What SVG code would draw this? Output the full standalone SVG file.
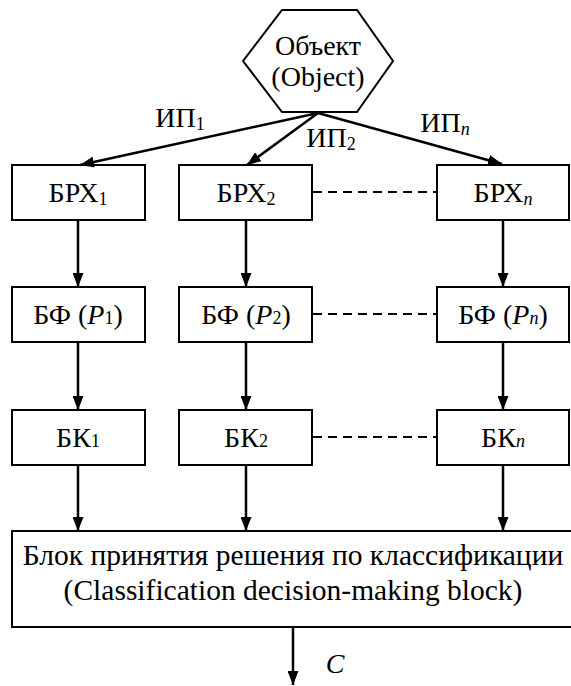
<svg xmlns="http://www.w3.org/2000/svg" width="571" height="686" viewBox="0 0 571 686">
<defs>
<style>
.box{fill:#fff;stroke:#000;stroke-width:2}
text{font-family:"Liberation Serif","DejaVu Serif",serif;font-size:28px;fill:#000;text-anchor:middle}
.big{font-size:29.5px}
.it{font-style:italic}
.sub{font-size:18px}
.ln{stroke:#000;stroke-width:2.5;fill:none}
.arr{marker-end:url(#ah)}
.dash{stroke:#000;stroke-width:2;stroke-dasharray:9 6;fill:none}
</style>
<marker id="ah" markerUnits="userSpaceOnUse" markerWidth="14" markerHeight="11" refX="14" refY="5.5" orient="auto">
<path d="M0,0 L14,5.5 L0,11 z" fill="#000"/>
</marker>
</defs>
<g id="object">
<polygon class="box" points="243,61 282,10 357,10 393,61 357,112 282,112"/>
<text x="318" y="55">Объект</text>
<text x="318" y="86">(Object)</text>
</g>
<g id="brx1"><rect class="box" x="12" y="165" width="133" height="55"/><text x="78" y="202">БРХ<tspan class="sub" dy="3">1</tspan></text></g>
<g id="brx2"><rect class="box" x="179" y="165" width="133" height="55"/><text x="246" y="202">БРХ<tspan class="sub" dy="3">2</tspan></text></g>
<g id="brxn"><rect class="box" x="437" y="165" width="132" height="55"/><text x="503" y="202">БРХ<tspan class="sub it" dy="3">n</tspan></text></g>
<g id="bf1"><rect class="box" x="12" y="287" width="133" height="55"/><text x="78" y="324">БФ (<tspan class="it">P</tspan><tspan class="sub">1</tspan>)</text></g>
<g id="bf2"><rect class="box" x="179" y="287" width="133" height="55"/><text x="246" y="324">БФ (<tspan class="it">P</tspan><tspan class="sub">2</tspan>)</text></g>
<g id="bfn"><rect class="box" x="437" y="287" width="132" height="55"/><text x="503" y="324">БФ (<tspan class="it">P</tspan><tspan class="sub it">n</tspan>)</text></g>
<g id="bk1"><rect class="box" x="12" y="410" width="133" height="55"/><text x="78" y="447">БК<tspan class="sub">1</tspan></text></g>
<g id="bk2"><rect class="box" x="179" y="410" width="133" height="55"/><text x="246" y="447">БК<tspan class="sub">2</tspan></text></g>
<g id="bkn"><rect class="box" x="437" y="410" width="132" height="55"/><text x="503" y="447">БК<tspan class="sub it">n</tspan></text></g>
<g id="decision"><rect class="box" x="12" y="531" width="562" height="96"/>
<text class="big" x="293" y="565">Блок принятия решения по классификации</text>
<text class="big" x="293" y="600">(Classification decision-making block)</text></g>
<g id="connectors">
<line class="ln arr" x1="318" y1="113" x2="80" y2="165"/>
<line class="ln arr" x1="318" y1="113" x2="247" y2="165"/>
<line class="ln arr" x1="318" y1="113" x2="502" y2="164"/>
<line class="ln arr" x1="78" y1="220" x2="78" y2="287"/>
<line class="ln arr" x1="246" y1="220" x2="246" y2="287"/>
<line class="ln arr" x1="503" y1="220" x2="503" y2="287"/>
<line class="ln arr" x1="78" y1="342" x2="78" y2="410"/>
<line class="ln arr" x1="246" y1="342" x2="246" y2="410"/>
<line class="ln arr" x1="503" y1="342" x2="503" y2="410"/>
<line class="ln arr" x1="78" y1="465" x2="78" y2="531"/>
<line class="ln arr" x1="246" y1="465" x2="246" y2="531"/>
<line class="ln arr" x1="503" y1="465" x2="503" y2="531"/>
<line class="ln arr" x1="293" y1="627" x2="293" y2="685"/>
<line class="dash" x1="313" y1="192" x2="436" y2="192"/>
<line class="dash" x1="313" y1="314" x2="436" y2="314"/>
<line class="dash" x1="313" y1="437" x2="436" y2="437"/>
<text x="180" y="127">ИП<tspan class="sub" dy="3">1</tspan></text>
<text x="331" y="147">ИП<tspan class="sub" dy="3">2</tspan></text>
<text x="445" y="132">ИП<tspan class="sub it" dy="3">n</tspan></text>
<text class="it" x="335" y="673">C</text>
</g>
</svg>
